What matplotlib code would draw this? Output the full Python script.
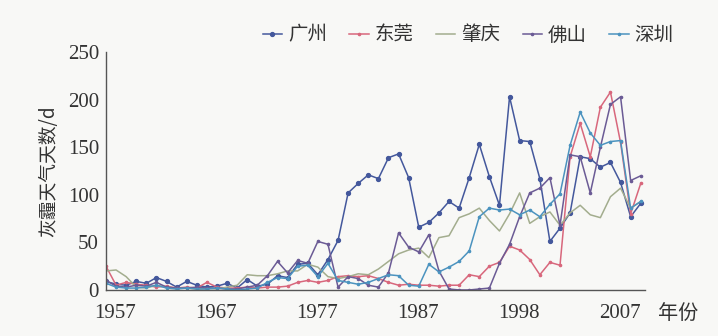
import matplotlib
matplotlib.use('Agg')
import matplotlib.pyplot as plt
from matplotlib.transforms import ScaledTranslation

# years 1957..2010 as category index
n_years = 54
tick_pos = [0, 10, 20, 30, 40, 50]
tick_labels = ['1957', '1967', '1977', '1987', '1998', '2007']

guangzhou = [9, 6, 5, 9, 7, 13, 9, 3, 9, 5, 3, 4, 7, 2,
             11, 4, 6, 15, 13, 27, 28, 16, 32,
             52, 102, 112, 121, 117, 139, 143, 118, 66, 71, 81, 93, 86, 118, 153, 119, 89,
             203, 157, 156, 117, 51, 65, 81, 140, 138, 129, 134, 113, 77, 91]
dongguan = [25, 5, 8, 6, 5, 3, 4, 2, 3, 2, 8, 3, 2, 2, 3, 2, 3, 3, 4, 8,
            10, 8, 10, 14, 15, 14, 15, 12, 8, 5, 6, 5, 5, 4, 5, 5, 16, 14, 25, 29,
            46, 42, 32, 16, 29, 26, 140, 175, 140, 192, 208, 155, 80, 112]
zhaoqing = [20, 21, 14, 3, 2, 5, 3, 2, 2, 1, 2, 1, 3, 5,
            16, 15, 15, 17, 20, 20, 27, 24, 14,
            12, 14, 17, 16, 22, 30, 38, 42, 44, 34, 55, 57, 76, 80, 86, 73, 62,
            80, 102, 70, 77, 82, 68, 81, 89, 79, 76, 98, 107, 86, 93]
foshan = [10, 4, 3, 5, 4, 8, 3, 2, 2, 3, 2, 2, 1, 1, 3,
          5, 15, 30, 18, 31, 28, 51, 48, 3, 14, 12, 5, 3, 18, 60, 45, 40, 58, 20, 1,
          0, 0, 1, 2, 28, 48, 77, 102, 107, 118, 68, 142, 140, 102, 150, 195, 203, 115, 120]
shenzhen = [7, 3, 2, 2, 3, 5, 2, 1, 2, 1, 1, 2, 1, 0, 1,
            2, 8, 13, 12, 25, 26, 14, 28,
            10, 8, 6, 8, 12, 16, 15, 5, 4, 27, 19, 24, 30, 41, 77, 86, 84,
            85, 79, 84, 77, 90, 101, 152, 187, 165, 152, 156, 157, 86, 93]

series = [('广州', guangzhou, '#44589c', 2.8),
          ('东莞', dongguan, '#d8677c', 1.6),
          ('肇庆', zhaoqing, '#a3ad8e', 0.0),
          ('佛山', foshan, '#6b5b95', 1.6),
          ('深圳', shenzhen, '#4b93bf', 1.6)]

cjk = ['Noto Sans CJK SC', 'DejaVu Sans']
bg = '#f8f8f6'

fig = plt.figure(figsize=(7.18, 3.36), dpi=100, facecolor=bg)
ax = fig.add_axes([0.1476, 0.137, 0.898 - 0.1476, 0.845 - 0.137], facecolor=bg)

x = list(range(n_years))
for name, vals, color, ms in series:
    ax.plot(x, vals, color=color, lw=1.1, marker='o' if ms > 0 else None,
            markersize=ms, label=name)

ax.set_xlim(0, 53.4)
ax.set_ylim(0, 250)
ax.set_yticks([0, 50, 100, 150, 200, 250])
ax.set_xticks(tick_pos)
ax.set_xticklabels(tick_labels)

for s in ['top', 'right']:
    ax.spines[s].set_visible(False)
for s in ['left', 'bottom']:
    ax.spines[s].set_color('#555555')
    ax.spines[s].set_linewidth(1.0)

ax.tick_params(axis='both', length=0, labelsize=15, colors='#333333')
ax.tick_params(axis='x', pad=10)
ax.tick_params(axis='y', pad=5)
for lab in ax.get_xticklabels() + ax.get_yticklabels():
    lab.set_family('Liberation Serif')
for lab in ax.get_xticklabels():
    lab.set_transform(lab.get_transform() + ScaledTranslation(9 / 100, 0, fig.dpi_scale_trans))

ax.set_ylabel('灰霾天气天数/d', family=cjk, fontsize=13.5, color='#333333', labelpad=6)
fig.text(678 / 718, 1 - 313 / 336, '年份', family=cjk, fontsize=14.5,
         color='#333333', ha='center', va='center')

leg = fig.legend(loc='center', bbox_to_anchor=(468 / 718, 1 - 35 / 336), ncol=5,
                 frameon=False, handlelength=1.0, handletextpad=0.3,
                 columnspacing=1.15, prop={'family': cjk, 'size': 14})
for t in leg.get_texts():
    t.set_color('#333333')

fig.savefig('out.png', dpi=100, facecolor=bg)
